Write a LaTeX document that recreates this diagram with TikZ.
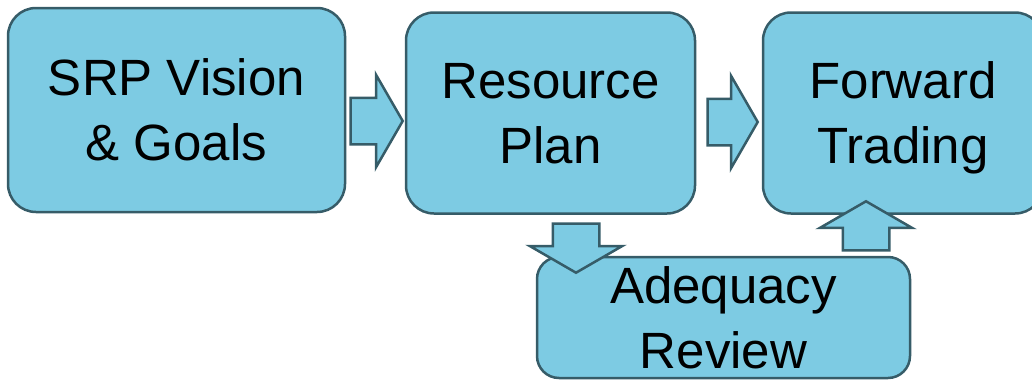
\documentclass[tikz,border=0pt]{standalone}
\usepackage{fontspec}
\setmainfont{Liberation Sans}
\usetikzlibrary{shapes.arrows}
\definecolor{boxfill}{RGB}{125,203,227}
\definecolor{boxline}{RGB}{54,92,104}

\begin{document}
\begin{tikzpicture}[x=1pt,y=-1pt,
	block/.style={draw=boxline,fill=boxfill,line width=2.5pt,rectangle,rounded corners=28pt,align=center,text depth=0pt,font=\fontsize{51}{65}\selectfont},
	bigarrow/.style={draw=boxline,fill=boxfill,line width=2.5pt,single arrow,inner xsep=0pt,inner ysep=22pt,single arrow head extend=23pt,single arrow tip angle=120},
	vertarrow/.style={bigarrow,inner xsep=22pt,inner ysep=0pt}]

	\useasboundingbox (0,0) rectangle (1032,380);

	% dobozok
	\node[block,minimum width=337pt,minimum height=204pt] (vision) at (176.5,110) {SRP Vision\\\& Goals};
	\node[block,minimum width=289pt,minimum height=201pt] (plan) at (550.5,113) {Resource\\Plan};
	\node[block,minimum width=280pt,minimum height=201pt] (trading) at (903,113) {Forward\\Trading};
	\node[block,rounded corners=22pt,minimum width=373pt,minimum height=121pt] (review) at (723.5,317.5) {Adequacy\\Review};

	% nyilak
	\node[bigarrow,minimum height=52pt] (vision-plan) at (370,121) {};
	\node[bigarrow,minimum height=50pt] (plan-trading) at (726,122) {};
	\node[vertarrow,minimum height=49pt,shape border rotate=270] (plan-review) at (576,241.5) {};
	\node[vertarrow,minimum height=49pt,shape border rotate=90] (review-trading) at (866,232.5) {};
\end{tikzpicture}
\end{document}
